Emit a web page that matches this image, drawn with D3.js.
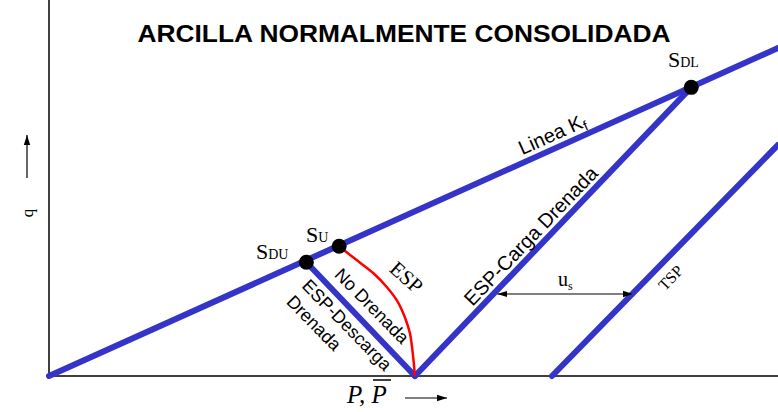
<!DOCTYPE html>
<html>
<head>
<meta charset="utf-8">
<script src="https://cdn.jsdelivr.net/npm/d3@7/dist/d3.min.js"></script>
<style>
  html, body { margin: 0; padding: 0; background: #fff; }
  svg { display: block; }
</style>
</head>
<body>
<svg id="chart" width="778" height="412"></svg>
<script>
// ---- data (p, q in chart units) ----
const kfP = [0, 100];
const kfQ = [0, 45];
const tspP = [69.0, 100];
const tspQ = [0, 31.7];
const espCargaP = [50.2, 88.1];
const espCargaQ = [0, 39.6];
const espDescargaP = [35.3, 50.2];
const espDescargaQ = [15.6, 0];
const espCurveP = [39.8, 42.2, 44.5, 46.3, 47.7, 48.8, 49.5, 49.9, 50.2];
const espCurveQ = [17.8, 15.9, 14.1, 12.25, 10.4, 8.1, 5.9, 3.1, 0];
const pointNames = ["SDU", "SU", "SDL"];
const pointP = [35.3, 39.8, 88.1];
const pointQ = [15.6, 17.8, 39.6];
const usP = [61.5, 80.1];
const usQ = [11.25, 11.25];

const W = 778, H = 412;
const svg = d3.select("#chart");
const x = d3.scaleLinear().domain([0, 100]).range([49, 778]);
const y = d3.scaleLinear().domain([0, 51.58]).range([376, 0]);

const blue = "#3434c8";
const sans = "'Liberation Sans', Arial, sans-serif";
const serif = "'Liberation Serif', 'Times New Roman', serif";

const defs = svg.append("defs");
function marker(id, orient) {
  defs.append("marker").attr("id", id).attr("viewBox", "0 0 10 10")
    .attr("refX", 10).attr("refY", 5).attr("markerWidth", 10).attr("markerHeight", 10)
    .attr("markerUnits", "userSpaceOnUse").attr("orient", orient)
    .append("path").attr("d", "M0,1.8 L10,5 L0,8.2 Z").attr("fill", "#000");
}
marker("arr", "auto");
marker("arrS", "auto-start-reverse");

// axes lines
svg.append("line").attr("x1", x(0)).attr("x2", x(0)).attr("y1", 0).attr("y2", y(0))
  .attr("stroke", "#000").attr("stroke-width", 1.5);
svg.append("line").attr("x1", x(0)).attr("x2", W).attr("y1", y(0)).attr("y2", y(0))
  .attr("stroke", "#000").attr("stroke-width", 1.5);

const line = d3.line().x(d => x(d[0])).y(d => y(d[1]));
const zip = (a, b) => a.map((v, i) => [v, b[i]]);

const g = svg.append("g");
[[kfP, kfQ], [tspP, tspQ], [espCargaP, espCargaQ], [espDescargaP, espDescargaQ]].forEach(([p, q]) => {
  g.append("path").attr("d", line(zip(p, q))).attr("fill", "none")
    .attr("stroke", blue).attr("stroke-width", 6).attr("stroke-linecap", "round");
});

// red ESP curve
svg.append("path").attr("d", d3.line().curve(d3.curveCatmullRom).x(d => x(d[0])).y(d => y(d[1]))(zip(espCurveP, espCurveQ)))
  .attr("fill", "none").attr("stroke", "#ff0000").attr("stroke-width", 2.5);

// u_s double arrow
svg.append("line").attr("x1", x(usP[0])).attr("x2", x(usP[1])).attr("y1", y(usQ[0])).attr("y2", y(usQ[1]))
  .attr("stroke", "#555").attr("stroke-width", 1.5)
  .attr("marker-start", "url(#arrS)").attr("marker-end", "url(#arr)");

// points
svg.selectAll("circle.pt").data(pointP.map((p, i) => ({ p, q: pointQ[i], n: pointNames[i] })))
  .enter().append("circle").attr("class", "pt")
  .attr("cx", d => x(d.p)).attr("cy", d => y(d.q)).attr("r", 7.5).attr("fill", "#000");

// title
svg.append("text").attr("x", 404).attr("y", 42).attr("text-anchor", "middle")
  .attr("font-family", sans).attr("font-weight", "bold").attr("font-size", 24)
  .attr("textLength", 533).attr("lengthAdjust", "spacingAndGlyphs")
  .text("ARCILLA NORMALMENTE CONSOLIDADA");

// point labels
function sLabel(xx, yy, sub) {
  const t = svg.append("text").attr("x", xx).attr("y", yy).attr("font-family", serif).attr("fill", "#000");
  t.append("tspan").attr("font-size", 22).text("S");
  t.append("tspan").attr("font-size", 14).text(sub);
}
sLabel(668, 67, "DL");
sLabel(306, 242, "U");
sLabel(256, 259, "DU");

// q axis label and arrow
svg.append("text").attr("transform", "translate(33,213) rotate(-90)").attr("text-anchor", "middle")
  .attr("font-family", serif).attr("font-size", 17).text("q");
svg.append("line").attr("x1", 27).attr("x2", 27).attr("y1", 178).attr("y2", 135)
  .attr("stroke", "#000").attr("stroke-width", 1.2).attr("marker-end", "url(#arr)");

// P, P-bar label
const pt = svg.append("text").attr("x", 347).attr("y", 403).attr("font-family", serif)
  .attr("font-style", "italic").attr("font-size", 25);
pt.append("tspan").text("P, ");
pt.append("tspan").text("P");
svg.append("line").attr("x1", 373).attr("x2", 391).attr("y1", 380).attr("y2", 380).attr("stroke", "#000").attr("stroke-width", 1.5);
svg.append("line").attr("x1", 405).attr("x2", 447).attr("y1", 398).attr("y2", 398)
  .attr("stroke", "#000").attr("stroke-width", 1.2).attr("marker-end", "url(#arr)");

// rotated text helper
function rtext(cx, cy, ang, txt, fam, size) {
  return svg.append("text").attr("transform", `translate(${cx},${cy}) rotate(${ang})`)
    .attr("text-anchor", "middle").attr("dominant-baseline", "middle")
    .attr("font-family", fam).attr("font-size", size).text(txt);
}
const lk = svg.append("text").attr("transform", "translate(553,136) rotate(-24.2)")
  .attr("text-anchor", "middle").attr("dominant-baseline", "middle")
  .attr("font-family", sans).attr("font-size", 20);
lk.append("tspan").text("Linea K");
lk.append("tspan").attr("font-size", 14).attr("dy", 5).text("f");

rtext(532, 237, -46.3, "ESP-Carga Drenada", sans, 20);
rtext(371, 307, 45.5, "No Drenada", sans, 18);
rtext(346, 326, 45.5, "ESP-Descarga", sans, 18);
rtext(313, 324, 45.5, "Drenada", sans, 18);
rtext(405, 279, 42, "ESP", serif, 21);
rtext(672, 279, -46, "TSP", serif, 16);

const us = svg.append("text").attr("x", 558).attr("y", 286).attr("font-family", serif).attr("font-size", 20);
us.append("tspan").text("u");
us.append("tspan").attr("font-size", 12).attr("dy", 4).text("s");
</script>
</body>
</html>
